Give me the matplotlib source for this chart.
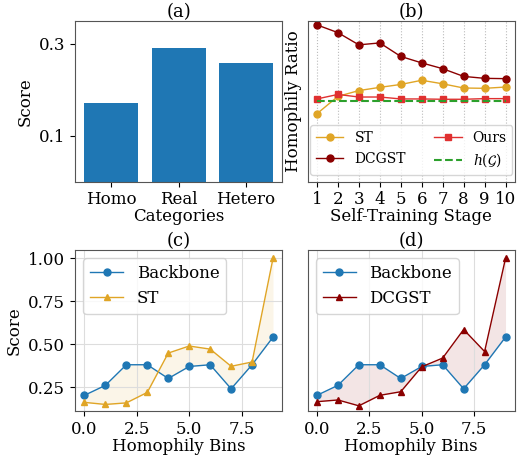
import matplotlib
matplotlib.use("Agg")
import matplotlib.pyplot as plt
import numpy as np

plt.rcParams["font.family"] = "DejaVu Serif"
plt.rcParams["font.size"] = 12
plt.rcParams["mathtext.fontset"] = "dejavuserif"

# (a) bar chart
CATEGORIES = ["Homo", "Real", "Hetero"]
BAR_SCORES = [0.171, 0.291, 0.259]

# (b) homophily ratio per self-training stage
STAGES = [1, 2, 3, 4, 5, 6, 7, 8, 9, 10]
ST_RATIO = [0.611, 0.665, 0.683, 0.693, 0.702, 0.715, 0.704, 0.691, 0.690, 0.694]
DCGST_RATIO = [0.887, 0.863, 0.825, 0.831, 0.789, 0.769, 0.751, 0.727, 0.721, 0.720]
OURS_RATIO = [0.657, 0.671, 0.663, 0.663, 0.657, 0.657, 0.656, 0.656, 0.658, 0.658]
GRAPH_H = 0.652

# (c), (d) score per homophily bin
BINS = [0, 1, 2, 3, 4, 5, 6, 7, 8, 9]
BACKBONE = [0.202, 0.26, 0.38, 0.38, 0.30, 0.37, 0.38, 0.24, 0.38, 0.541]
ST_BINS = [0.161, 0.149, 0.158, 0.219, 0.448, 0.489, 0.471, 0.371, 0.396, 1.00]
DCGST_BINS = [0.165, 0.175, 0.141, 0.202, 0.223, 0.368, 0.419, 0.585, 0.457, 1.00]

BLUE = "#1f77b4"
GOLD = "#e0a526"
DARKRED = "#8b0000"
RED = "#e03030"
GREEN = "#2ca02c"

fig = plt.figure(figsize=(5.27, 4.57), dpi=100)
ax_a = fig.add_axes([0.1423, 0.6024, 0.3937, 0.3523])
ax_b = fig.add_axes([0.5835, 0.6024, 0.3937, 0.3523])
ax_c = fig.add_axes([0.1423, 0.0996, 0.3937, 0.3534])
ax_d = fig.add_axes([0.5835, 0.0996, 0.3937, 0.3534])

for ax in (ax_a, ax_b, ax_c, ax_d):
    for sp in ax.spines.values():
        sp.set_color("#555555")

# (a)
ax_a.bar(CATEGORIES, BAR_SCORES, color=BLUE, width=0.8)
ax_a.set_ylim(0, 0.35)
ax_a.set_yticks([0.1, 0.3])
ax_a.set_ylabel("Score")
ax_a.set_xlabel("Categories", labelpad=0)
ax_a.set_title("(a)", pad=2, fontsize=13)

# (b)
ax_b.plot(STAGES, ST_RATIO, "-o", color=GOLD, lw=1, ms=5, label="ST")
ax_b.plot(STAGES, OURS_RATIO, "-s", color=RED, lw=1, ms=5, label="Ours")
ax_b.plot(STAGES, DCGST_RATIO, "-o", color=DARKRED, lw=1, ms=5, label="DCGST")
ax_b.plot(STAGES, [GRAPH_H] * len(STAGES), "--", color=GREEN, lw=1.5, label=r"$h(\mathcal{G})$")
ax_b.set_ylim(0.40, 0.90)
ax_b.set_xticks(STAGES)
ax_b.set_yticks([])
ax_b.grid(axis="x", linestyle=":", color="#bbbbbb", lw=0.8)
ax_b.set_xlabel("Self-Training Stage", labelpad=0)
ax_b.set_ylabel("Homophily Ratio")
ax_b.set_title("(b)", pad=2, fontsize=13)
handles, labels = ax_b.get_legend_handles_labels()
order = [0, 2, 1, 3]
ax_b.legend([handles[i] for i in order], [labels[i] for i in order], ncol=2,
            loc="lower center", fontsize=10)

# (c)
ax_c.plot(BINS, BACKBONE, "-o", color=BLUE, lw=1, ms=5, label="Backbone")
ax_c.plot(BINS, ST_BINS, "-^", color=GOLD, lw=1, ms=5, label="ST")
ax_c.fill_between(BINS, BACKBONE, ST_BINS, color=GOLD, alpha=0.1, lw=0)
ax_c.set_ylim(0.108, 1.048)
ax_c.set_yticks([0.25, 0.5, 0.75, 1.0])
ax_c.set_xticks([0, 2.5, 5, 7.5])
ax_c.grid(color="#dddddd", lw=0.8)
ax_c.set_xlabel("Homophily Bins", labelpad=0)
ax_c.set_ylabel("Score")
ax_c.set_title("(c)", pad=2, fontsize=13)
ax_c.legend(loc="upper left", fontsize=12)

# (d)
ax_d.plot(BINS, BACKBONE, "-o", color=BLUE, lw=1, ms=5, label="Backbone")
ax_d.plot(BINS, DCGST_BINS, "-^", color=DARKRED, lw=1, ms=5, label="DCGST")
ax_d.fill_between(BINS, BACKBONE, DCGST_BINS, color=DARKRED, alpha=0.1, lw=0)
ax_d.set_ylim(0.108, 1.048)
ax_d.set_yticks([])
ax_d.set_xticks([0, 2.5, 5, 7.5])
ax_d.grid(axis="x", color="#dddddd", lw=0.8)
ax_d.set_xlabel("Homophily Bins", labelpad=0)
ax_d.set_title("(d)", pad=2, fontsize=13)
ax_d.legend(loc="upper left", fontsize=12)

fig.savefig("out.png", dpi=100)
